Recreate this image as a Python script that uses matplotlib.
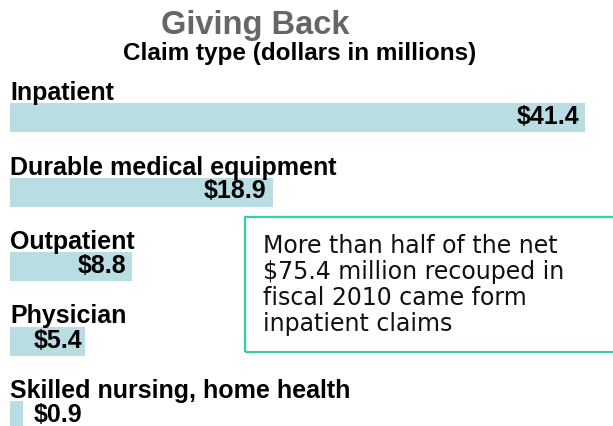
import matplotlib.pyplot as plt
from matplotlib.patches import Rectangle

plt.rcParams['font.family'] = ['Liberation Sans', 'DejaVu Sans']

claim_types = ['Inpatient', 'Durable medical equipment', 'Outpatient',
               'Physician', 'Skilled nursing, home health']
amounts = [41.4, 18.9, 8.8, 5.4, 0.9]
value_labels = ['$41.4', '$18.9', '$8.8', '$5.4', '$0.9']

title = 'Giving Back'
subtitle = 'Claim type (dollars in millions)'
note = ('More than half of the net\n$75.4 million recouped in\n'
        'fiscal 2010 came form\ninpatient claims')

bar_color = '#b8dde2'

W, H = 613, 426
fig = plt.figure(figsize=(W / 100, H / 100), dpi=100)
ax = fig.add_axes([0, 0, 1, 1])
ax.axis('off')

# x in dollars (bars start 10px in), y in pixels from the top
px_per_unit = 575 / 41.4
ax.set_xlim(-10 / px_per_unit, (W - 10) / px_per_unit)
ax.set_ylim(H, 0)

bar_h = 29
ys = [117.5 + 74.5 * i for i in range(len(amounts))]
ax.barh(ys, amounts, height=bar_h, color=bar_color)

min_right = 72 / px_per_unit
for y, name, v, lab in zip(ys, claim_types, amounts, value_labels):
    ax.text(0, y - bar_h / 2 - 3, name, fontsize=18, fontweight='bold',
            ha='left', va='baseline')
    ax.text(max(v - 6 / px_per_unit, min_right), y - 0.5, lab, fontsize=18,
            fontweight='bold', ha='right', va='center')

fig.text(255 / W, 1 - 34 / H, title, fontsize=23.5, fontweight='bold',
         color='#666666', ha='center', va='baseline')
fig.text(300 / W, 1 - 60 / H, subtitle, fontsize=17.5, fontweight='bold',
         ha='center', va='baseline')

# note box, runs off the right edge
box = Rectangle((245 / W, 1 - 352 / H), 400 / W, 135 / H,
                transform=fig.transFigure, fill=False,
                edgecolor='#33d1a5', linewidth=1.6)
fig.patches.append(box)
fig.text(263 / W, 1 - 234 / H, note, fontsize=17, family='DejaVu Sans',
         ha='left', va='top', linespacing=1.1, color='#111111')

fig.savefig('out.png', dpi=100)
